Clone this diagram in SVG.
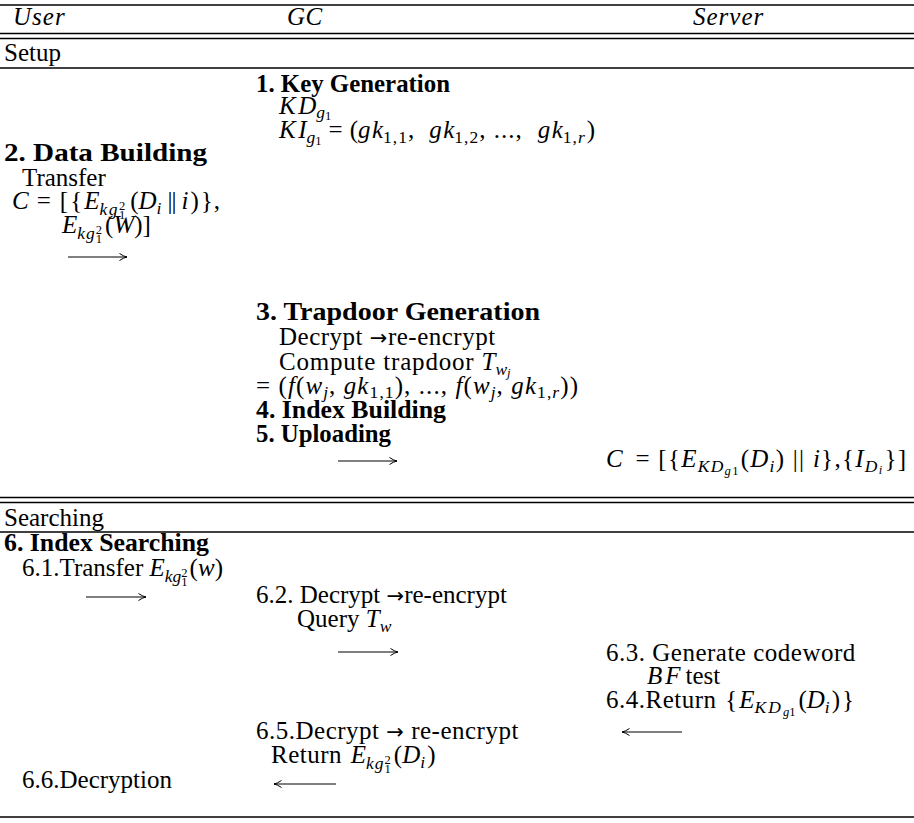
<svg xmlns="http://www.w3.org/2000/svg" width="914" height="823" viewBox="0 0 914 823">
<defs>
<style>
.r{font-family:"Liberation Serif","Times New Roman",serif;font-size:25px;fill:#000}
.w{letter-spacing:0.5px}
.i{font-style:italic}
.b{font-weight:bold}
.s{font-size:17.5px}
.ss{font-size:12.5px}
.ar{font-family:"DejaVu Sans",sans-serif;font-size:21px}
.rule{stroke:#000;stroke-width:1.4;fill:none}
.arr{stroke:#000;stroke-width:1;fill:none;marker-end:url(#head)}
</style>
<marker id="head" viewBox="0 0 10 10" markerWidth="10" markerHeight="10" refX="9.5" refY="5" orient="auto" markerUnits="userSpaceOnUse">
<path d="M2,1.5 Q6,4.3 9.5,5 Q6,5.7 2,8.5" stroke="#000" stroke-width="1" fill="none"/>
</marker>
</defs>
<rect width="914" height="823" fill="#fff"/>

<!-- table rules -->
<g id="rules">
<line class="rule" x1="0" y1="5" x2="914" y2="5"/>
<line class="rule" x1="0" y1="33.5" x2="914" y2="33.5"/>
<line class="rule" x1="0" y1="38.5" x2="914" y2="38.5"/>
<line class="rule" x1="0" y1="68" x2="914" y2="68"/>
<line class="rule" x1="0" y1="497.5" x2="914" y2="497.5"/>
<line class="rule" x1="0" y1="502.5" x2="914" y2="502.5"/>
<line class="rule" x1="0" y1="532" x2="914" y2="532"/>
<line class="rule" x1="0" y1="817" x2="914" y2="817"/>
</g>

<!-- column heads -->
<g id="header">
<text class="r i" x="13" y="25" letter-spacing="1">User</text>
<text class="r i" x="287" y="25" letter-spacing="0.5">GC</text>
<text class="r i" x="693" y="25" letter-spacing="1">Server</text>
</g>

<g id="setup-label"><text class="r" x="4" y="61">Setup</text></g>

<g id="key-generation">
<text class="r b" x="256" y="92" textLength="194" lengthAdjust="spacingAndGlyphs">1. Key Generation</text>
<text class="r" x="279" y="114"><tspan class="i" letter-spacing="2.5">K</tspan><tspan class="i">D</tspan><tspan class="s i" dy="4">g</tspan><tspan class="ss" dy="2">1</tspan></text>
<text class="r" x="279" y="138"><tspan class="i" letter-spacing="2.5">K</tspan><tspan class="i">I</tspan><tspan class="s i" dy="4.5">g</tspan><tspan class="ss" dy="2">1</tspan><tspan dy="-6.5" dx="7">=</tspan><tspan dx="7">(</tspan><tspan class="i" letter-spacing="1.5">g</tspan><tspan class="i">k</tspan><tspan class="s" dy="4.5" letter-spacing="1">1,1</tspan><tspan dy="-4.5">,</tspan><tspan class="i" dx="15" letter-spacing="1.5">g</tspan><tspan class="i">k</tspan><tspan class="s" dy="4.5" letter-spacing="1">1,2</tspan><tspan dy="-4.5" letter-spacing="1">, ...,</tspan><tspan class="i" dx="15" letter-spacing="1.5">g</tspan><tspan class="i">k</tspan><tspan class="s" dy="4.5" letter-spacing="1">1,</tspan><tspan class="s i">r</tspan><tspan dy="-4.5" dx="2">)</tspan></text>
</g>

<g id="data-building">
<text class="r b" x="4" y="161" textLength="203" lengthAdjust="spacingAndGlyphs">2. Data Building</text>
<text class="r" x="22" y="186">Transfer</text>
<text class="r" x="12" y="209"><tspan class="i">C</tspan><tspan dx="8">=</tspan><tspan dx="9">[</tspan><tspan dx="2">{</tspan><tspan class="i" dx="2">E</tspan><tspan class="s i" dy="5.5" letter-spacing="1.5">kg</tspan><tspan class="ss" dy="-5">2</tspan><tspan class="ss" dx="-6.25" dy="9.5">1</tspan><tspan dy="-10" dx="5">(</tspan><tspan class="i">D</tspan><tspan class="s i" dy="4.5">i</tspan><tspan dy="-4.5" dx="6" letter-spacing="-1">||</tspan><tspan class="i" dx="6">i</tspan><tspan dx="2">)</tspan><tspan dx="2">}</tspan><tspan dx="1">,</tspan></text>
<text class="r" x="62" y="233"><tspan class="i">E</tspan><tspan class="s i" dy="5.5" letter-spacing="1">kg</tspan><tspan class="ss" dy="-5">2</tspan><tspan class="ss" dx="-6.25" dy="9.5">1</tspan><tspan dy="-10" dx="3">(</tspan><tspan class="i">W</tspan><tspan>)]</tspan></text>
</g>

<g id="trapdoor-generation">
<text class="r b" x="256" y="320" textLength="284" lengthAdjust="spacingAndGlyphs">3. Trapdoor Generation</text>
<text class="r w" x="279" y="345"><tspan>Decrypt </tspan><tspan class="ar">→</tspan><tspan>re-encrypt</tspan></text>
<text class="r" x="279" y="370"><tspan letter-spacing="0.8">Compute trapdoor </tspan><tspan class="i">T</tspan><tspan class="s i" dy="4.5">w</tspan><tspan class="ss i" dy="2.5">j</tspan></text>
<text class="r" x="256" y="394" textLength="322" lengthAdjust="spacing"><tspan>= (</tspan><tspan class="i">f</tspan><tspan>(</tspan><tspan class="i">w</tspan><tspan class="s i" dy="4">j</tspan><tspan dy="-4">, </tspan><tspan class="i">gk</tspan><tspan class="s" dy="4">1,1</tspan><tspan dy="-4">), ..., </tspan><tspan class="i">f</tspan><tspan>(</tspan><tspan class="i">w</tspan><tspan class="s i" dy="4">j</tspan><tspan dy="-4">, </tspan><tspan class="i">gk</tspan><tspan class="s" dy="4">1,</tspan><tspan class="s i">r</tspan><tspan dy="-4">))</tspan></text>
</g>

<g id="index-building">
<text class="r b" x="256" y="418" textLength="190" lengthAdjust="spacingAndGlyphs">4. Index Building</text>
</g>

<g id="uploading">
<text class="r b" x="256" y="442" textLength="135" lengthAdjust="spacingAndGlyphs">5. Uploading</text>
</g>

<g id="server-store">
<text class="r" x="606" y="467" textLength="300" lengthAdjust="spacing"><tspan class="i">C</tspan><tspan dx="4"> = [{</tspan><tspan class="i">E</tspan><tspan class="s i" dy="4.5">KD</tspan><tspan class="ss i" dy="3">g</tspan><tspan class="ss">1</tspan><tspan dy="-7.5" dx="1">(</tspan><tspan class="i">D</tspan><tspan class="s i" dy="4.5">i</tspan><tspan dy="-4.5">) || </tspan><tspan class="i">i</tspan><tspan>},{</tspan><tspan class="i">I</tspan><tspan class="s i" dy="4.5">D</tspan><tspan class="ss i" dy="2">i</tspan><tspan dy="-6.5" dx="1">}]</tspan></text>
</g>

<g id="searching-label"><text class="r" x="4" y="526">Searching</text></g>

<g id="index-searching">
<text class="r b" x="4" y="551" textLength="205" lengthAdjust="spacingAndGlyphs">6. Index Searching</text>
<text class="r" x="22" y="576"><tspan>6.1.Transfer </tspan><tspan class="i">E</tspan><tspan class="s i" dy="5.5">kg</tspan><tspan class="ss" dy="-5">2</tspan><tspan class="ss" dx="-6.25" dy="9.5">1</tspan><tspan dy="-10" dx="2">(</tspan><tspan class="i">w</tspan><tspan>)</tspan></text>
</g>

<g id="gc-query">
<text class="r" x="256" y="603"><tspan>6.2. Decrypt </tspan><tspan class="ar">→</tspan><tspan>re-encrypt</tspan></text>
<text class="r" x="297" y="627"><tspan>Query </tspan><tspan class="i">T</tspan><tspan class="s i" dy="4.5">w</tspan></text>
</g>

<g id="server-search">
<text class="r w" x="606" y="661">6.3. Generate codeword</text>
<text class="r" x="647" y="684"><tspan class="i" letter-spacing="3">BF</tspan><tspan dx="2">test</tspan></text>
<text class="r" x="606" y="708"><tspan class="w">6.4.Return </tspan><tspan dx="2">{</tspan><tspan class="i" dx="2">E</tspan><tspan class="s i" dy="4.5" letter-spacing="2">KD</tspan><tspan class="ss i" dy="3">g</tspan><tspan class="ss">1</tspan><tspan dy="-7.5" dx="3">(</tspan><tspan class="i">D</tspan><tspan class="s i" dy="4.5">i</tspan><tspan dy="-4.5" dx="2">)</tspan><tspan dx="2">}</tspan></text>
</g>

<g id="gc-return">
<text class="r w" x="256" y="739"><tspan>6.5.Decrypt </tspan><tspan class="ar">→</tspan><tspan> re-encrypt</tspan></text>
<text class="r" x="271" y="763"><tspan class="w">Return </tspan><tspan class="i" dx="2">E</tspan><tspan class="s i" dy="5.5" letter-spacing="1">kg</tspan><tspan class="ss" dy="-5">2</tspan><tspan class="ss" dx="-6.25" dy="9.5">1</tspan><tspan dy="-10" dx="3">(</tspan><tspan class="i">D</tspan><tspan class="s i" dy="4.5">i</tspan><tspan dy="-4.5" dx="2">)</tspan></text>
</g>

<g id="user-decryption"><text class="r" x="22" y="788">6.6.Decryption</text></g>

<!-- message arrows -->
<g id="connectors">
<line class="arr" x1="68" y1="257" x2="127" y2="257"/>
<line class="arr" x1="338" y1="461" x2="397" y2="461"/>
<line class="arr" x1="86" y1="597" x2="146" y2="597"/>
<line class="arr" x1="338" y1="652" x2="398" y2="652"/>
<line class="arr" x1="682" y1="732" x2="622" y2="732"/>
<line class="arr" x1="336" y1="784" x2="274" y2="784"/>
</g>
</svg>
